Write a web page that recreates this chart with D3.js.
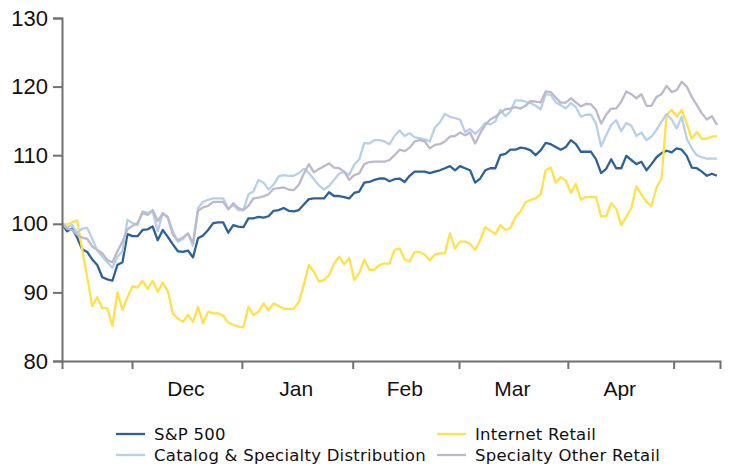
<!DOCTYPE html>
<html>
<head>
<meta charset="utf-8">
<script src="https://cdn.jsdelivr.net/npm/d3@7"></script>
<style>
    body { margin: 0; background: #fff; }
    svg { display: block; }
</style>
</head>
<body>
<div id="chartDiv"></div>
<script>
/* * * * * * * * * * * * * *
*          DATA            *
* * * * * * * * * * * * * */

// month names shown between the month boundary ticks
const monthLabels = ['Dec', 'Jan', 'Feb', 'Mar', 'Apr'];
// month boundaries, as positions on the trading-day index
const monthBounds = [13.9, 35.7, 57.7, 78.8, 100.4, 121.4];
const yTicks = [80, 90, 100, 110, 120, 130];

// indexed performance, one value per trading day
const sp500 = [
    100, 98.9, 99.3, 98.0, 96.3, 95.9, 94.8, 94.0, 92.2, 91.9,
    91.7, 94.0, 94.4, 98.5, 98.2, 98.2, 99.1, 99.2, 99.6, 97.6,
    99.1, 98.1, 97.0, 96.0, 95.9, 96.1, 95.1, 97.9, 98.3, 99.1,
    100.1, 100.2, 100.2, 98.7, 99.8, 99.6, 99.5, 100.8, 100.8, 101.0,
    100.9, 101.1, 101.9, 102.0, 102.3, 101.9, 101.8, 102.0, 102.8, 103.6,
    103.7, 103.7, 103.7, 104.6, 104.05, 104.05, 103.9, 103.7, 104.5, 104.7,
    106.0, 106.1, 106.4, 106.6, 106.6, 106.2, 106.5, 106.6, 106.1, 107.0,
    107.6, 107.6, 107.6, 107.4, 107.6, 107.8, 108.1, 108.4, 107.8, 108.4,
    108.1, 107.8, 106.0, 106.6, 107.8, 108.1, 108.1, 110.0, 110.2, 110.8,
    110.8, 111.1, 111.0, 110.7, 110.0, 110.7, 111.8, 111.6, 111.2, 110.8,
    111.2, 112.2, 111.6, 110.5, 110.5, 110.5, 109.4, 107.4, 108.0, 109.4,
    108.1, 108.1, 109.9, 109.3, 108.7, 109.05, 107.8, 108.7, 109.7, 110.3,
    110.65, 110.4, 111.0, 110.8, 109.9, 108.2, 108.1, 107.6, 107.0, 107.3,
    107.0
];
const internetRetail = [
    100, 99.9, 100.2, 100.5, 96.3, 92.2, 88.0, 89.3, 87.7, 87.7,
    85.1, 90.0, 87.5, 89.3, 90.9, 90.7, 91.7, 90.5, 91.7, 90.1,
    91.4, 90.2, 86.95, 86.2, 85.7, 86.7, 85.7, 87.9, 85.5, 87.2,
    86.95, 86.95, 86.6, 85.6, 85.25, 85.0, 84.9, 87.9, 86.7, 87.2,
    88.4, 87.4, 88.4, 88.0, 87.6, 87.6, 87.6, 88.6, 91.1, 94.0,
    93.0, 91.6, 91.8, 92.5, 94.2, 95.2, 94.1, 95.0, 91.8, 92.8,
    94.8, 93.3, 93.3, 94.0, 94.2, 94.2, 96.2, 96.4, 94.8, 94.5,
    95.9, 95.9, 95.5, 94.7, 95.5, 95.7, 95.7, 98.6, 96.4, 97.4,
    97.4, 97.1, 96.2, 97.6, 99.5, 99.0, 98.5, 99.8, 99.1, 99.4,
    101.0, 101.8, 103.1, 103.5, 103.7, 104.3, 107.8, 108.2, 106.0, 106.8,
    106.3, 104.5, 105.8, 103.5, 103.9, 103.9, 103.9, 101.1, 101.1, 103.0,
    102.2, 99.8, 101.0, 102.3, 105.5, 104.3, 103.2, 102.6, 105.3, 106.6,
    115.9, 116.6, 115.6, 116.6, 114.6, 112.4, 113.4, 112.4, 112.4, 112.7,
    112.8
];
const catalogSpecialty = [
    100, 99.5, 99.8, 98.7, 99.3, 99.4, 97.8, 96.1, 95.2, 94.4,
    93.6, 95.2, 96.0, 100.6, 100.1, 99.8, 101.8, 101.6, 101.8, 98.9,
    101.6, 101.0, 98.9, 97.4, 97.8, 98.6, 96.8, 102.3, 103.2, 103.5,
    103.7, 103.7, 103.7, 102.2, 102.7, 102.0, 102.0, 104.3, 104.7, 106.4,
    106.0, 105.0, 105.7, 106.9, 107.1, 107.0, 107.0, 107.4, 108.0, 107.4,
    106.5, 105.6, 105.0, 105.5, 106.4, 107.3, 107.6, 107.1, 108.6, 109.4,
    111.8, 111.7, 112.2, 112.2, 112.0, 111.6, 112.8, 113.6, 112.8, 113.2,
    112.6, 112.5, 112.3, 112.0, 114.0, 114.8, 116.0, 115.6, 115.4, 115.2,
    113.4, 113.8, 113.1, 113.8, 114.7, 114.5, 114.9, 116.6, 115.7, 116.4,
    118.0, 118.0, 117.8, 117.6, 117.2, 116.7, 118.9, 118.8, 117.7, 117.3,
    116.8, 117.6, 117.0, 115.6, 115.9, 115.9, 114.6, 111.3, 112.9, 114.4,
    115.1, 113.5, 114.7, 114.3, 112.8, 113.3, 112.2, 112.7, 113.7, 114.9,
    116.0, 115.2, 113.9, 115.6, 112.4, 111.0, 110.0, 109.7, 109.5, 109.5,
    109.5
];
const specialtyOther = [
    100, 99.3, 99.1, 98.4, 98.0, 97.8, 96.7, 96.2, 95.7, 94.7,
    94.4, 96.0, 97.4, 99.2, 99.7, 100.1, 101.6, 101.3, 102.0, 100.4,
    101.5, 100.9, 98.4, 97.6, 98.0, 98.6, 97.2, 101.9, 102.4, 102.6,
    103.2, 103.2, 103.2, 102.1, 103.0, 102.3, 102.0, 102.6, 103.7, 103.8,
    104.0, 104.3, 105.1, 105.2, 105.3, 105.0, 104.9, 105.7, 107.3, 108.7,
    107.5, 108.0, 108.4, 108.8, 108.2, 108.1, 107.6, 106.4, 107.1, 107.35,
    108.7, 109.0, 109.05, 109.05, 109.05, 109.3, 110.0, 110.8, 110.6, 111.1,
    112.0, 112.2, 112.0, 111.0, 111.5, 111.6, 112.0, 112.7, 112.8, 113.3,
    112.9, 113.3, 111.7, 113.2, 114.4, 115.2, 115.6, 116.2, 116.7, 116.8,
    117.0, 116.8, 117.2, 117.9, 117.8, 117.7, 119.3, 119.2, 118.4, 117.65,
    117.65, 118.3, 117.7, 117.1, 117.5, 117.4, 116.6, 114.6, 115.9, 116.8,
    116.8, 117.8, 119.3, 118.9, 118.3, 118.9, 117.2, 117.2, 118.5, 118.9,
    120.1, 119.2, 119.5, 120.7, 120.0, 118.5, 117.3, 116.1, 115.2, 115.7,
    114.4
];

const seriesNames = ['S&P 500', 'Internet Retail', 'Catalog & Specialty Distribution', 'Specialty Other Retail'];
const seriesValues = [sp500, internetRetail, catalogSpecialty, specialtyOther];
const seriesColors = ['#2e6195', '#ffe04d', '#b6d0ea', '#bdb8ca'];

/* * * * * * * * * * * * * *
*          CHART           *
* * * * * * * * * * * * * */

const width = 730, height = 468;
const margin = {top: 18, right: 10, bottom: 107, left: 62};
const n = sp500.length;

const svg = d3.select('#chartDiv')
    .append('svg')
    .attr('width', width)
    .attr('height', height);

// x runs over the trading-day index, axis line overshoots the last point slightly
const x = d3.scaleLinear()
    .domain([0, n - 1 + 0.6])
    .range([margin.left, width - margin.right]);

const y = d3.scaleLinear()
    .domain([80, 130])
    .range([height - margin.bottom, margin.top]);

// lines
const line = d3.line()
    .x((d, i) => x(i))
    .y(d => y(d));

seriesValues.forEach((vals, k) => {
    svg.append('path')
        .datum(vals)
        .attr('d', line)
        .attr('fill', 'none')
        .attr('stroke', seriesColors[k])
        .attr('stroke-width', 2.3)
        .attr('stroke-linejoin', 'round');
});

// y axis
const yAxis = svg.append('g')
    .attr('transform', `translate(${margin.left},0)`)
    .call(d3.axisLeft(y).tickValues(yTicks).tickSize(9).tickPadding(5));

// x axis: ticks at month boundaries, labels go in between
const xAxis = svg.append('g')
    .attr('transform', `translate(0,${height - margin.bottom})`)
    .call(d3.axisBottom(x).tickValues(monthBounds).tickSize(8).tickFormat(''));

[yAxis, xAxis].forEach(g => {
    g.select('.domain').attr('stroke', '#717171').attr('stroke-width', 2);
    g.selectAll('.tick line').attr('stroke', '#717171').attr('stroke-width', 2);
    g.selectAll('text')
        .attr('fill', '#111')
        .style('font-family', '"Liberation Sans", Arial, sans-serif')
        .style('font-size', '22px');
});

svg.append('g')
    .selectAll('text')
    .data(monthLabels)
    .join('text')
    .attr('x', (d, i) => (x(monthBounds[i]) + x(monthBounds[i + 1])) / 2 - 1)
    .attr('y', 396)
    .attr('text-anchor', 'middle')
    .attr('fill', '#111')
    .style('font-family', '"Liberation Sans", Arial, sans-serif')
    .style('font-size', '21px')
    .text(d => d);

// legend, two columns
const legendPos = [[116, 434], [437, 434], [116, 455], [437, 455]];
const legend = svg.append('g')
    .selectAll('g')
    .data(seriesNames)
    .join('g')
    .attr('transform', (d, i) => `translate(${legendPos[i][0]},${legendPos[i][1]})`);

legend.append('line')
    .attr('x1', 0)
    .attr('x2', 29)
    .attr('stroke', (d, i) => seriesColors[i])
    .attr('stroke-width', 2.3);

legend.append('text')
    .attr('x', 38)
    .attr('y', 6)
    .attr('fill', '#111')
    .style('font-family', '"DejaVu Sans", sans-serif')
    .style('font-size', '16.5px')
    .style('letter-spacing', '0.25px')
    .text(d => d);
</script>
</body>
</html>
